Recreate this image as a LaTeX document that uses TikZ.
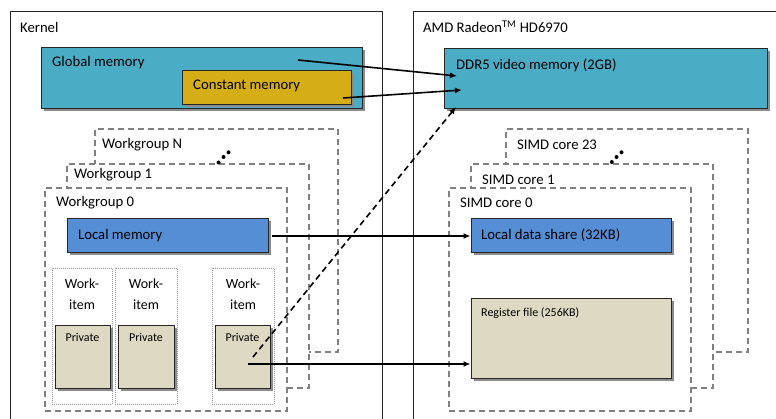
\documentclass[tikz,border=0pt]{standalone}
\usepackage{fontspec}
\setmainfont{Carlito}
\usetikzlibrary{fit, positioning, shadows, arrows.meta}

\definecolor{globcol}{HTML}{4BACC6}
\definecolor{constcol}{HTML}{D5AD14}
\definecolor{localcol}{HTML}{558ED5}
\definecolor{privcol}{HTML}{DDD9C3}

\tikzset{
  mem/.style={draw=black!85, line width=1pt, inner sep=0pt,
    drop shadow={shadow xshift=2.5pt, shadow yshift=-2.5pt, fill=black!45, opacity=1}},
  grp/.style={draw=black!50, dash pattern=on 6pt off 4pt, line width=1.1pt, fill=white, inner sep=0pt},
  wibox/.style={draw=black!40, dash pattern=on 1pt off 1pt, line width=0.8pt, inner sep=0pt},
  lbl/.style={anchor=west, inner sep=0pt},
  conn/.style={line width=1.6pt, -{Latex[length=7pt, width=6pt]}},
  small/.style={font=\fontsize{12}{14}\selectfont},
}

\begin{document}
\begin{tikzpicture}[x=1pt, y=-1pt, font=\fontsize{14.7}{17}\selectfont]
\useasboundingbox (0,0) rectangle (776,419);

% outer frames
\draw[line width=1pt, black!85] (10,421) |- (382,12) -- (382,421);
\draw[line width=1pt, black!85] (413,421) |- (778,12);
\node[lbl] (kern) at (20,27) {Kernel};
\node[lbl] (gpu) at (423,27) {AMD Radeon\textsuperscript{TM} HD6970};

% global / constant memory
\node[mem, fill=globcol, fit={(41,48) (362,109)}] (glob) {};
\node[lbl] (globl) at (52,63) {Global memory};
\node[mem, fill=constcol, fit={(182,71) (351,105)}] (const) {};
\node[lbl] (constl) at (193,86) {Constant memory};

\node[mem, fill=globcol, fit={(444,49) (767,109)}] (ddr) {};
\node[lbl] (ddrl) at (456,65) {DDR5 video memory (2GB)};

% workgroups and SIMD cores
\foreach \l/\t/\r/\b/\lx/\ly/\name/\id in {
    95/129/338/352/102/145/Workgroup N/n,
    67/164/309/388/74/175/Workgroup 1/b,
    45/188/287/411/56/203/Workgroup 0/a} {
  \node[grp, fit={(\l,\t) (\r,\b)}] (wg\id) {};
  \node[lbl] (wgl\id) at (\lx,\ly) {\name};
}
\foreach \l/\t/\r/\b/\lx/\ly/\name/\id in {
    506/129/748/352/517/145/SIMD core 23/n,
    471/164/713/388/482/180/SIMD core 1/b,
    449/188/691/411/460/203/SIMD core 0/a} {
  \node[grp, fit={(\l,\t) (\r,\b)}] (sc\id) {};
  \node[lbl] (scl\id) at (\lx,\ly) {\name};
}
\foreach \x/\y in {218.5/162.5, 223.5/157, 228.5/152.3, 611.8/162, 616.5/157, 621.5/152.3}
  \fill (\x,\y) circle (2pt);

% local memory
\node[mem, fill=localcol, fit={(67,219) (268,253)}] (locmem) {};
\node[lbl] (locmeml) at (78,236) {Local memory};
\node[mem, fill=localcol, fit={(471,219) (671,253)}] (lds) {};
\node[lbl] (ldsl) at (481,235) {Local data share (32KB)};
\node[mem, fill=privcol, fit={(471,299) (671,378)}] (regf) {};
\node[lbl, small] (regfl) at (481,313) {Register file (256KB)};

% work-items
\foreach \i/\l/\r/\pl/\pr in {1/52/112/55/110, 2/115/177/118/174, 3/212/274/215/270} {
  \node[wibox, fit={(\l,268) (\r,404)}] (wi\i) {};
  \node[align=center, inner sep=0pt, font=\fontsize{14}{21}\selectfont] (wil\i) at ({(\l+\r)/2},294) {Work-\\item};
  \node[mem, fill=privcol, fit={(\pl,326) (\pr,388)}] (pv\i) {};
  \node[small, inner sep=0pt, below=8pt of pv\i.north] (pvl\i) {Private};
}

% connections
\coordinate (g1) at (298,60);
\coordinate (d1) at (457,76);
\coordinate (c1) at (343,98);
\coordinate (d2) at (462,90);
\coordinate (p1) at (253,357);
\coordinate (d3) at (456,107);
\coordinate (p2) at (248,364);

\draw[conn] (g1) -- (d1);
\draw[conn] (c1) -- (d2);
\draw[conn, dash pattern=on 6pt off 4pt] (p1) -- (d3);
\draw[conn] ([xshift=3pt]locmem.east) -- (lds.west);
\draw[conn] (p2) -- (p2 -| regf.west);
\end{tikzpicture}
\end{document}
